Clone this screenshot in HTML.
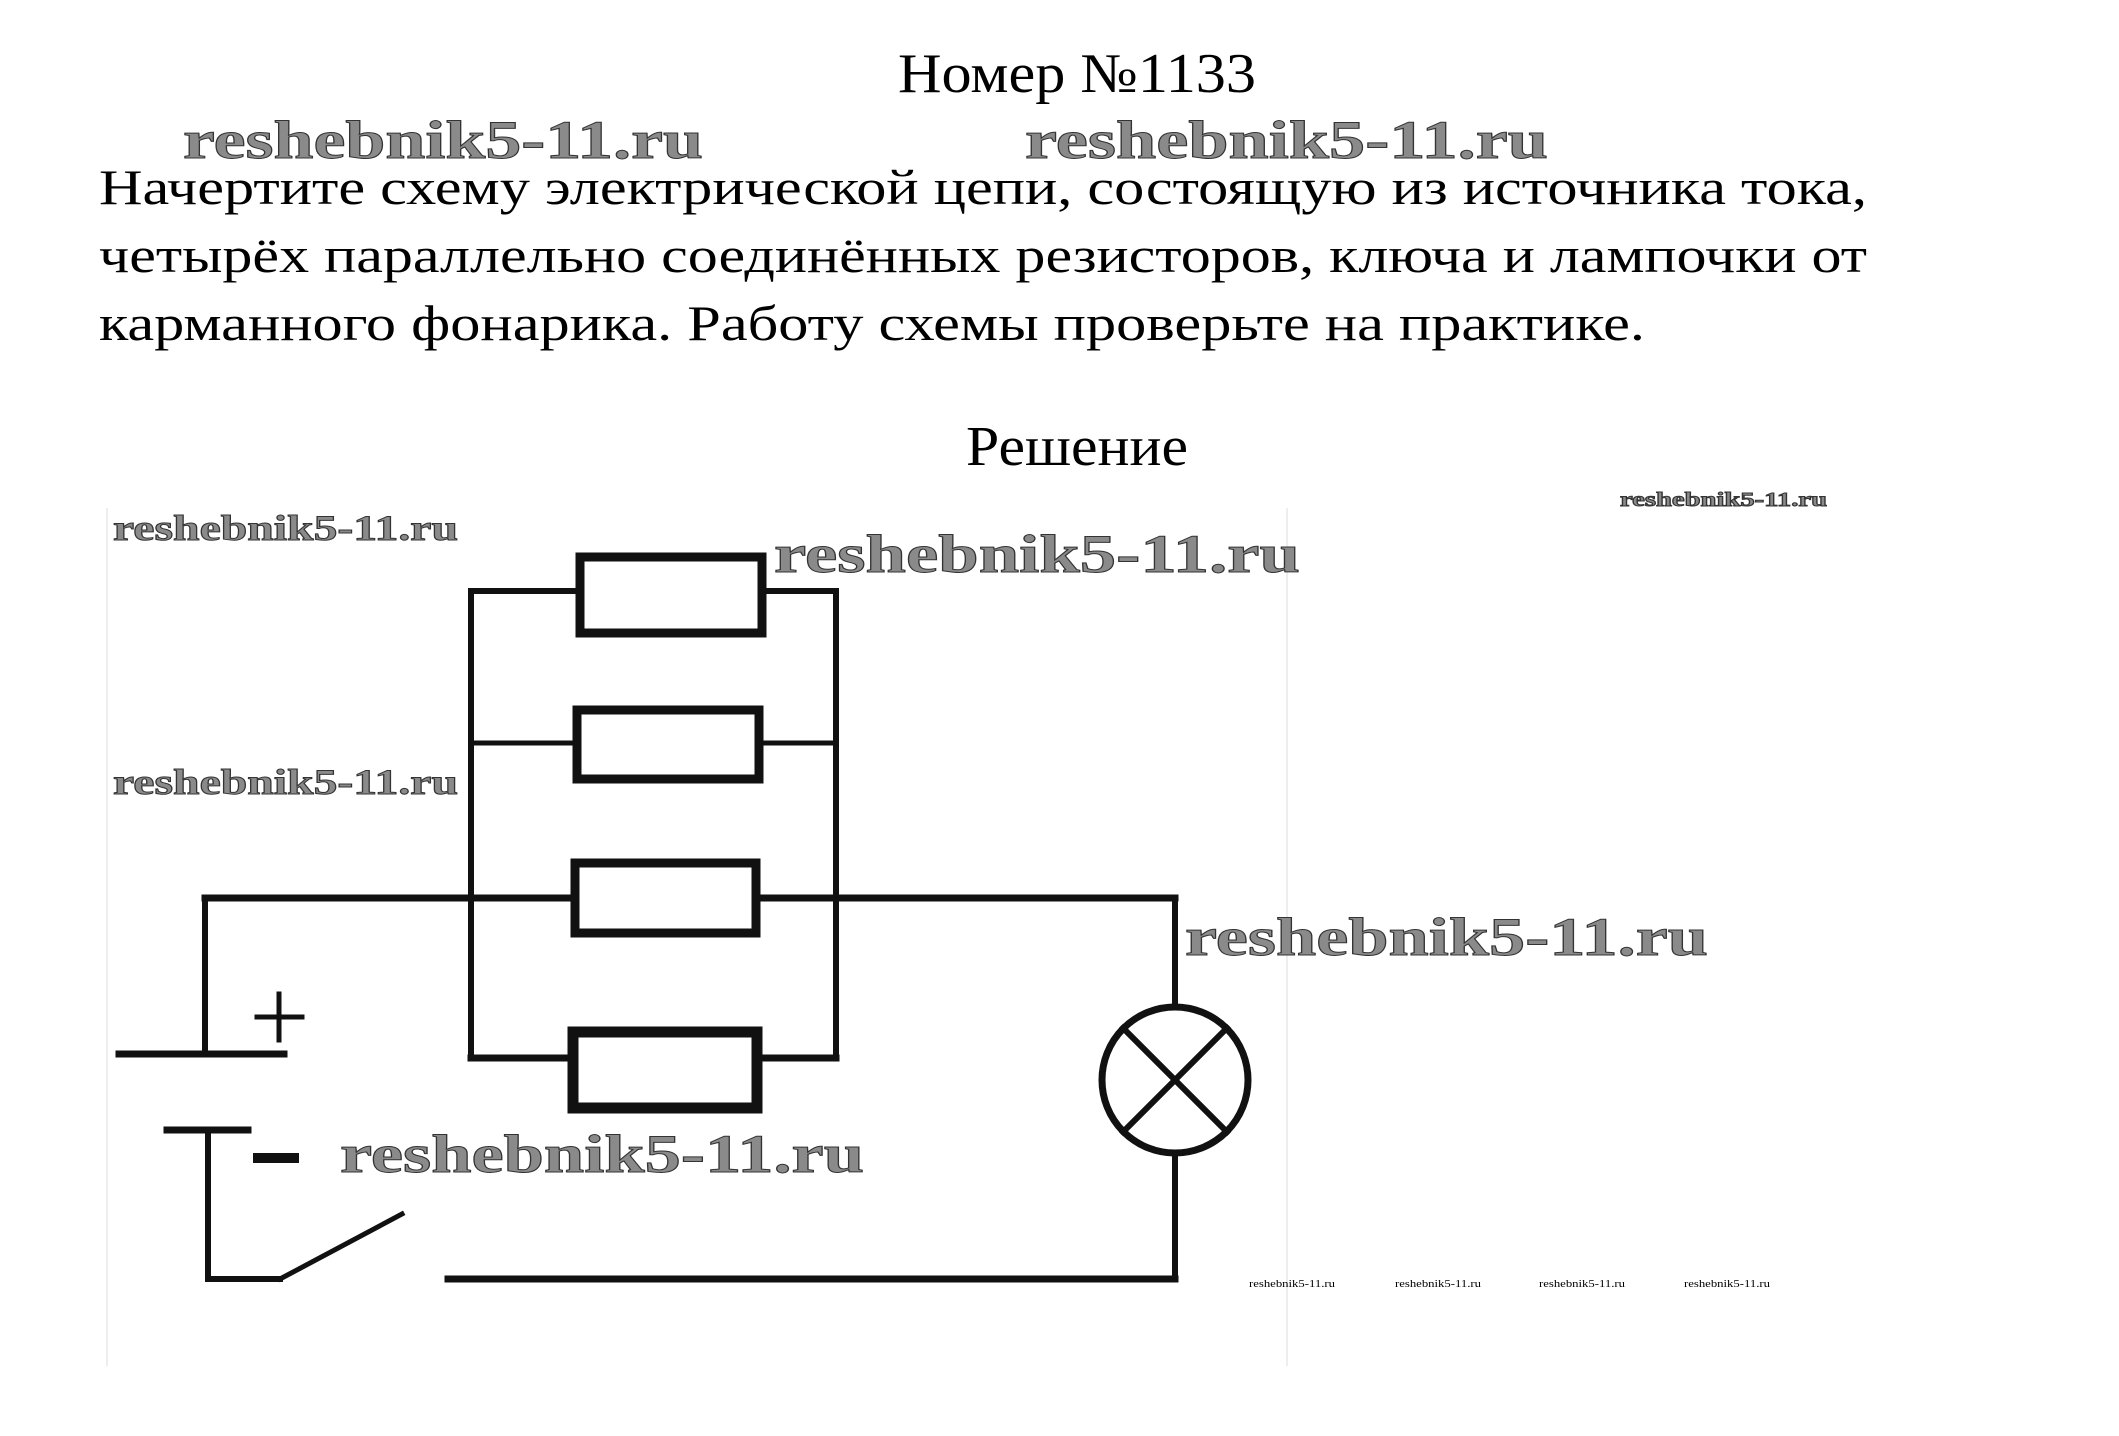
<!DOCTYPE html>
<html><head><meta charset="utf-8"><style>
html,body{margin:0;padding:0;background:#fff;}
svg{display:block}
.t{font-family:"Liberation Serif",serif;fill:#000}
.w{font-family:"Liberation Serif",serif;font-weight:bold;fill:#8a8a8a;stroke:#333;stroke-width:1}
</style></head><body>
<svg width="2119" height="1436" viewBox="0 0 2119 1436" xmlns="http://www.w3.org/2000/svg">
<rect width="2119" height="1436" fill="#fff"/>
<line x1="107" y1="508" x2="107" y2="1366" stroke="#eee" stroke-width="2"/>
<line x1="1287" y1="508" x2="1287" y2="1366" stroke="#eee" stroke-width="2"/>
<text class="t" x="1077" y="92" font-size="56" text-anchor="middle" textLength="358" lengthAdjust="spacingAndGlyphs">Номер №1133</text>
<text class="t" x="99" y="204" font-size="50" textLength="1768" lengthAdjust="spacingAndGlyphs">Начертите схему электрической цепи, состоящую из источника тока,</text>
<text class="t" x="99" y="272" font-size="50" textLength="1768" lengthAdjust="spacingAndGlyphs">четырёх параллельно соединённых резисторов, ключа и лампочки от</text>
<text class="t" x="99" y="340" font-size="50" textLength="1546" lengthAdjust="spacingAndGlyphs">карманного фонарика. Работу схемы проверьте на практике.</text>
<text class="t" x="1077" y="465" font-size="56" text-anchor="middle" textLength="222" lengthAdjust="spacingAndGlyphs">Решение</text>

<g stroke="#111" fill="none" stroke-linecap="square">
<line x1="471" y1="591" x2="471" y2="1058" stroke-width="6"/>
<line x1="836" y1="591" x2="836" y2="1058" stroke-width="6"/>
<line x1="471" y1="591" x2="576" y2="591" stroke-width="6"/>
<line x1="765" y1="591" x2="836" y2="591" stroke-width="6"/>
<line x1="471" y1="743" x2="573" y2="743" stroke-width="5"/>
<line x1="763" y1="743" x2="836" y2="743" stroke-width="5"/>
<line x1="471" y1="1058" x2="568" y2="1058" stroke-width="7"/>
<line x1="762" y1="1058" x2="836" y2="1058" stroke-width="7"/>
<line x1="205" y1="898" x2="571" y2="898" stroke-width="7"/>
<line x1="759" y1="898" x2="1175" y2="898" stroke-width="7"/>
<line x1="205" y1="898" x2="205" y2="1054" stroke-width="6"/>
<line x1="1175" y1="898" x2="1175" y2="1007" stroke-width="6"/>
<line x1="1175" y1="1153" x2="1175" y2="1279" stroke-width="6"/>
<rect x="580" y="557" width="182" height="76" stroke-width="9"/>
<rect x="577" y="710" width="182" height="69" stroke-width="9"/>
<rect x="575" y="863" width="181" height="70" stroke-width="9"/>
<rect x="573" y="1032" width="184" height="76" stroke-width="11"/>
<line x1="119" y1="1054" x2="284" y2="1054" stroke-width="7"/>
<line x1="167" y1="1130" x2="248" y2="1130" stroke-width="7"/>
<line x1="208" y1="1130" x2="208" y2="1279" stroke-width="6"/>
<line x1="253" y1="1158" x2="299" y2="1158" stroke-width="10" stroke-linecap="butt"/>
<line x1="257" y1="1017" x2="302" y2="1017" stroke-width="5"/>
<line x1="279" y1="994" x2="279" y2="1040" stroke-width="5"/>
<line x1="208" y1="1279" x2="280" y2="1279" stroke-width="6"/>
<line x1="280" y1="1279" x2="402" y2="1214" stroke-width="5"/>
<line x1="448" y1="1279" x2="1175" y2="1279" stroke-width="7"/>
<circle cx="1175" cy="1080" r="73" stroke-width="7"/>
<line x1="1123" y1="1028" x2="1227" y2="1132" stroke-width="6"/>
<line x1="1227" y1="1028" x2="1123" y2="1132" stroke-width="6"/>
</g>

<text class="w" x="183" y="158" font-size="54" textLength="520" lengthAdjust="spacingAndGlyphs">reshebnik5-11.ru</text>
<text class="w" x="1025" y="158" font-size="54" textLength="523" lengthAdjust="spacingAndGlyphs">reshebnik5-11.ru</text>
<text class="w" x="113" y="540" font-size="36" textLength="345" lengthAdjust="spacingAndGlyphs">reshebnik5-11.ru</text>
<text class="w" x="1620" y="506" font-size="20" textLength="207" lengthAdjust="spacingAndGlyphs" stroke-width="0.5">reshebnik5-11.ru</text>
<text class="w" x="774" y="572" font-size="54" textLength="526" lengthAdjust="spacingAndGlyphs">reshebnik5-11.ru</text>
<text class="w" x="113" y="794" font-size="36" textLength="345" lengthAdjust="spacingAndGlyphs">reshebnik5-11.ru</text>
<text class="w" x="1185" y="955" font-size="54" textLength="523" lengthAdjust="spacingAndGlyphs">reshebnik5-11.ru</text>
<text class="w" x="340" y="1172" font-size="54" textLength="524" lengthAdjust="spacingAndGlyphs">reshebnik5-11.ru</text>
<g class="t" font-size="11" fill="#444">
<text x="1249" y="1287" textLength="86" lengthAdjust="spacingAndGlyphs">reshebnik5-11.ru</text>
<text x="1395" y="1287" textLength="86" lengthAdjust="spacingAndGlyphs">reshebnik5-11.ru</text>
<text x="1539" y="1287" textLength="86" lengthAdjust="spacingAndGlyphs">reshebnik5-11.ru</text>
<text x="1684" y="1287" textLength="86" lengthAdjust="spacingAndGlyphs">reshebnik5-11.ru</text>
</g>
</svg>
</body></html>
